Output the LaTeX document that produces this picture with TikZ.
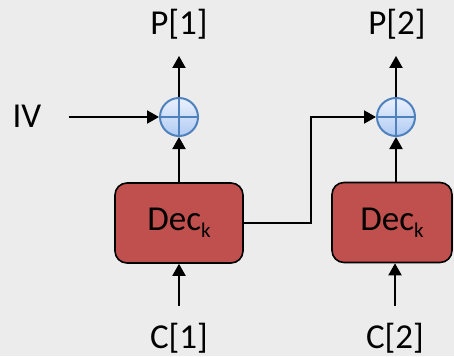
\documentclass[tikz,border=0pt]{standalone}
\usepackage{fontspec}
\setmainfont{Carlito}
\usetikzlibrary{arrows.meta}
\definecolor{paper}{RGB}{236,236,236}
\definecolor{decred}{RGB}{192,80,77}
\definecolor{xorline}{RGB}{79,129,189}
\definecolor{xortop}{RGB}{234,241,253}
\definecolor{xorbot}{RGB}{176,203,243}
\newcommand{\deck}{Dec\raisebox{-7pt}{\fontsize{21}{21}\selectfont k}}
\begin{document}
\begin{tikzpicture}[x=1pt,y=-1pt,
  lbl/.style={font=\fontsize{35}{40}\selectfont, inner sep=0pt, anchor=base},
  arr/.style={line width=2pt, -{Triangle[length=12pt,width=13pt]}},
  decbox/.style={draw=black, line width=1.6pt, fill=decred, rounded corners=12pt,
    minimum width=128pt, minimum height=80pt, inner sep=0pt,
    font=\fontsize{35}{40}\selectfont},
  xor/.style={circle, draw=xorline, line width=2pt, top color=xortop, bottom color=xorbot,
    minimum size=38pt, inner sep=0pt,
    path picture={\draw[xorline, line width=1.6pt]
      (path picture bounding box.north) -- (path picture bounding box.south)
      (path picture bounding box.west) -- (path picture bounding box.east);}}]
  % paper background
  \path[use as bounding box, fill=paper] (0,0) rectangle (454,356);

  % XOR gates
  \node[xor] (x1) at (179,117) {};
  \node[xor] (x2) at (396,117) {};

  % decryption blocks
  \node[decbox] (d1) at (179,223) {\deck};
  \node[decbox, minimum width=120pt] (d2) at (392,222.5) {\deck};

  % labels
  \node[lbl] (p1) at (179,34) {P[1]};
  \node[lbl] (p2) at (397,34) {P[2]};
  \node[lbl] (iv) at (27,127) {IV};
  \node[lbl] (c1) at (179,348) {C[1]};
  \node[lbl] (c2) at (395,348) {C[2]};

  % plaintext outputs
  \draw[arr, shorten >=17pt] (x1.north) -- (x1.north |- p1.south);
  \draw[arr, shorten >=17pt] (x2.north) -- (x2.north |- p2.south);

  % IV into first XOR
  \draw[arr, shorten <=27pt] (iv.east |- x1) -- (x1.west);

  % block outputs into XOR gates
  \draw[arr] (d1.north) -- (x1.south);
  \draw[arr] (x2.south |- d2.north) -- (x2.south);

  % chaining: first block output feeds second XOR
  \draw[arr] (d1.east) -- ++(67,0) |- (x2.west);

  % ciphertext inputs
  \draw[arr, shorten <=17pt] (c1.north) -- (d1.south);
  \draw[arr, shorten <=17pt] (c2.north) -- (c2.north |- d2.south);
\end{tikzpicture}
\end{document}
